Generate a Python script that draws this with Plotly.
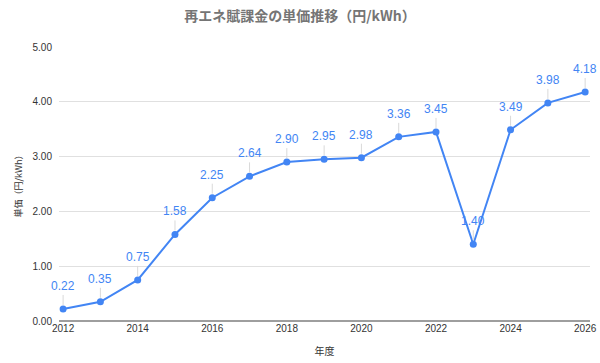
import plotly.graph_objects as go

years = [2012, 2013, 2014, 2015, 2016, 2017, 2018, 2019, 2020, 2021, 2022, 2023, 2024, 2025, 2026]
values = [0.22, 0.35, 0.75, 1.58, 2.25, 2.64, 2.90, 2.95, 2.98, 3.36, 3.45, 1.40, 3.49, 3.98, 4.18]
x_ticks = [2012, 2014, 2016, 2018, 2020, 2022, 2024, 2026]
y_ticks = [0, 1, 2, 3, 4, 5]

BLUE = "#4285F4"
FONT = "Liberation Sans, Arial, Noto Sans CJK JP, sans-serif"

fig = go.Figure()
fig.add_trace(go.Scatter(
    x=years, y=values, mode="lines+markers",
    line=dict(color=BLUE, width=2),
    marker=dict(color=BLUE, size=7),
    hoverinfo="x+y", showlegend=False,
))

for xv, yv in zip(years, values):
    fig.add_annotation(
        x=xv, y=yv, text=f"{yv:.2f}", showarrow=True, arrowhead=0,
        arrowwidth=1, arrowcolor="#d9d9d9", ax=0, ay=-14,
        yanchor="bottom", standoff=4,
        font=dict(family=FONT, size=12, color=BLUE),
    )

fig.update_layout(
    width=600, height=363,
    margin=dict(l=59, r=10, t=47, b=42),
    paper_bgcolor="white", plot_bgcolor="white",
    title=dict(text="<b>再エネ賦課金の単価推移（円/kWh）</b>", x=0.5, xanchor="center",
               y=0.955, yanchor="middle",
               font=dict(family="Noto Sans CJK JP, sans-serif", size=14, color="#757575")),
    xaxis=dict(
        range=[2011.89, 2026.13], tickvals=x_ticks, ticktext=[str(t) for t in x_ticks],
        showgrid=False, zeroline=False, showline=False, ticks="", automargin=False,
        tickfont=dict(family=FONT, size=10, color="#333333"),
        title=dict(text="年度", font=dict(family="Noto Sans CJK JP, sans-serif", size=10, color="#333333"),
                   standoff=14),
    ),
    yaxis=dict(
        range=[0, 5], tickvals=y_ticks, ticktext=[f"{t:.2f}" for t in y_ticks],
        showgrid=True, gridcolor="#e0e0e0", gridwidth=1, automargin=False,
        zeroline=True, zerolinecolor="#9e9e9e", zerolinewidth=1.5,
        ticks="", ticklabelstandoff=6,
        tickfont=dict(family=FONT, size=10, color="#333333"),
        title=dict(text="単価（円/kWh）", font=dict(family="Noto Sans CJK JP, sans-serif", size=9, color="#333333"),
                   standoff=8),
    ),
)

fig.write_html("out.html")
